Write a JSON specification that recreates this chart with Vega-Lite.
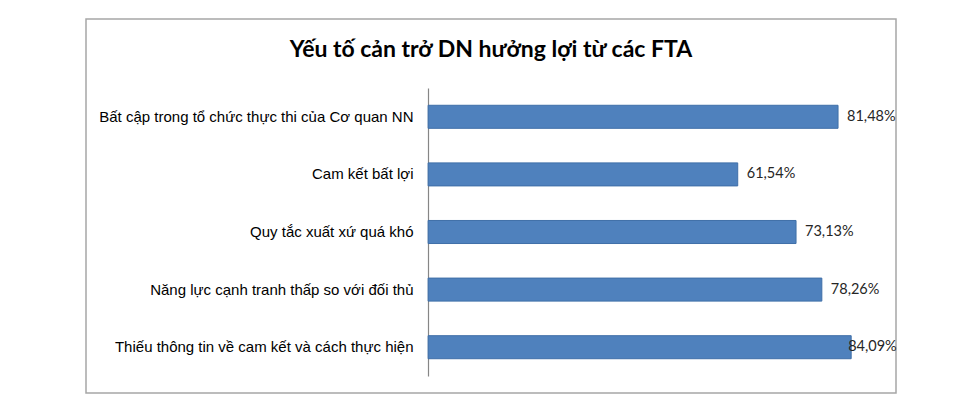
{
  "$schema": "https://vega.github.io/schema/vega-lite/v6.json",
  "description": "Yếu tố cản trở DN hưởng lợi từ các FTA",
  "autosize": "none",
  "padding": {"left": 86, "top": 19, "right": 64, "bottom": 16},
  "width": 810,
  "height": 374,
  "background": "#ffffff",
  "title": {
    "text": "Yếu tố cản trở DN hưởng lợi từ các FTA",
    "anchor": "middle",
    "frame": "group",
    "baseline": "alphabetic",
    "offset": -39,
    "dy": 22,
    "font": "Lato",
    "fontSize": 23,
    "fontWeight": "bold",
    "color": "#000000"
  },
  "config": {
    "view": {"stroke": "#A6A6A6", "strokeWidth": 1.5},
    "locale": {
      "number": {"decimal": ",", "thousands": ".", "grouping": [3], "currency": ["", " ₫"]}
    }
  },
  "data": {
    "values": [
      {"factor": "Bất cập trong tổ chức thực thi của Cơ quan NN", "value": 0.8148},
      {"factor": "Cam kết bất lợi", "value": 0.6154},
      {"factor": "Quy tắc xuất xứ quá khó", "value": 0.7313},
      {"factor": "Năng lực cạnh tranh thấp so với đối thủ", "value": 0.7826},
      {"factor": "Thiếu thông tin về cam kết và cách thực hiện", "value": 0.8409}
    ]
  },
  "encoding": {
    "y": {
      "field": "factor",
      "type": "nominal",
      "sort": null,
      "scale": {"range": [69, 357], "paddingInner": 0.6, "paddingOuter": 0.3},
      "axis": {
        "title": null,
        "offset": -342,
        "ticks": false,
        "grid": false,
        "domainColor": "#868686",
        "domainWidth": 1.2,
        "labelFont": "Liberation Sans",
        "labelFontSize": 15,
        "labelColor": "#000000",
        "labelPadding": 15,
        "labelLimit": 0
      }
    }
  },
  "layer": [
    {
      "mark": {"type": "bar", "color": "#4F81BD", "stroke": "#3F6FA8", "strokeWidth": 1},
      "encoding": {
        "x": {
          "field": "value",
          "type": "quantitative",
          "scale": {"domain": [-0.68, 0.93], "nice": false, "zero": false},
          "axis": null
        }
      }
    },
    {
      "transform": [{"calculate": "min(datum.value, 0.817)", "as": "labelPos"}],
      "mark": {
        "type": "text",
        "align": "left",
        "baseline": "middle",
        "dx": 9,
        "font": "Lato",
        "fontSize": 14.5,
        "color": "#262626"
      },
      "encoding": {
        "x": {"field": "labelPos", "type": "quantitative"},
        "text": {"field": "value", "type": "quantitative", "format": ".2%"}
      }
    }
  ]
}
